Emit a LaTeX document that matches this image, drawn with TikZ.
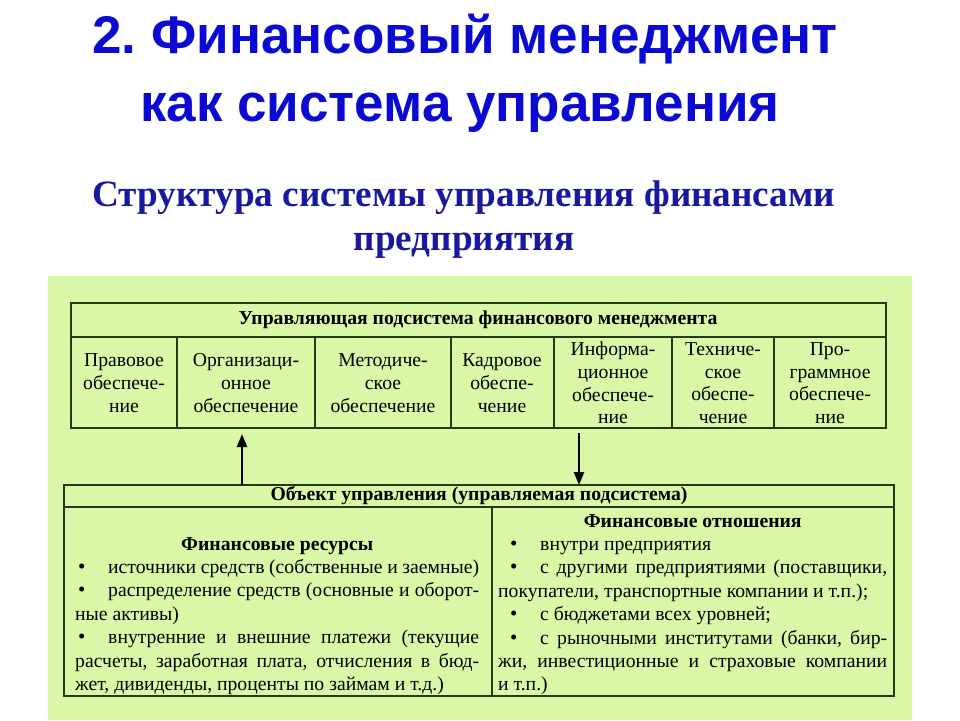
\documentclass[tikz,border=0pt]{standalone}
\usepackage{fontspec}
\setmainfont{Liberation Serif}
\newfontfamily\slidesans{Liberation Sans}
\usetikzlibrary{arrows.meta}

\definecolor{slidegreen}{RGB}{218,247,168}
\definecolor{titleblue}{RGB}{10,10,210}
\definecolor{subblue}{RGB}{25,25,160}
\definecolor{gridline}{RGB}{40,55,20}

\hyphenpenalty=10000
\exhyphenpenalty=10000
\frenchspacing

\newcommand{\itemdot}{\hspace*{3pt}\makebox[30pt][l]{\fontsize{21}{0}\selectfont\textbullet}}

\tikzset{
  rule/.style={draw=gridline, line width=1.6pt},
  cell/.style={align=center, inner sep=0pt, font=\fontsize{19.7}{22.7}\selectfont},
  rowhead/.style={inner sep=0pt, font=\bfseries\fontsize{19.7}{22}\selectfont},
  itembox/.style={inner sep=0pt, align=justify, anchor=base west,
    font=\fontsize{19.7}{23.4}\selectfont},
  link/.style={line width=2.4pt, -{Triangle[width=10pt,length=13pt]}},
}

\begin{document}
\begin{tikzpicture}[x=1pt,y=-1pt]
\useasboundingbox (0,0) rectangle (960,720);

% headings
\node[anchor=base, text=titleblue, font=\slidesans\bfseries\fontsize{53}{60}\selectfont]
  (title1) at (465,53) {2. Финансовый менеджмент};
\node[anchor=base, text=titleblue, font=\slidesans\bfseries\fontsize{53}{60}\selectfont]
  (title2) at (460,121) {как система управления};
\node[anchor=base, text=subblue, font=\bfseries\fontsize{37.2}{44}\selectfont]
  (sub1) at (464,206) {Структура системы управления финансами};
\node[anchor=base, text=subblue, font=\bfseries\fontsize{37.2}{44}\selectfont]
  (sub2) at (464,250) {предприятия};

\fill[slidegreen] (48,276) rectangle (912,720);

% managing subsystem
\draw[rule] (71,303) rectangle (886,428);
\draw[rule] (71,337) -- (886,337);
\foreach \x in {177,315,451,554,672,774}
  \draw[rule] (\x,337) -- (\x,428);

\node[rowhead] (mhead) at (478,320) {Управляющая подсистема финансового менеджмента};

\foreach \x/\t [count=\i] in {
  124/{Правовое\\обеспече-\\ние},
  246/{Организаци-\\онное\\обеспечение},
  383/{Методиче-\\ское\\обеспечение},
  502/{Кадровое\\обеспе-\\чение},
  613/{Информа-\\ционное\\обеспече-\\ние},
  723/{Техниче-\\ское\\обеспе-\\чение},
  830/{Про-\\граммное\\обеспече-\\ние}}
  \node[cell] (sup\i) at (\x,383) {\t};

% managed object
\draw[rule] (64,485) rectangle (894,696);
\draw[rule] (64,507) -- (894,507);
\draw[rule] (492,507) -- (492,696);

\node[rowhead] (ohead) at (479,496) {Объект управления (управляемая подсистема)};

\node[itembox, text width=404pt] (res) at (75,550) {%
  {\centering\bfseries Финансовые ресурсы\par}
  \itemdot источники средств (собственные и заемные)\par
  \itemdot распределение средств (основные и оборот-\linebreak
  ные активы)\par
  \itemdot внутренние и внешние платежи (текущие\linebreak
  расчеты, заработная плата, отчисления в бюд-\linebreak
  жет, дивиденды, проценты по займам и т.д.)\par};

\node[itembox, text width=389pt] (rel) at (498,527) {%
  {\centering\bfseries Финансовые отношения\par}
  \hspace*{9pt}\itemdot внутри предприятия\par
  \hspace*{9pt}\itemdot с другими предприятиями (поставщики,\linebreak
  покупатели, транспортные компании и т.п.);\par
  \hspace*{9pt}\itemdot с бюджетами всех уровней;\par
  \hspace*{9pt}\itemdot с рыночными институтами (банки, бир-\linebreak
  жи, инвестиционные и страховые компании\linebreak
  и т.п.)\par};

% links between subsystems
\coordinate (upfrom) at (242,485);
\coordinate (upto) at (242,434);
\coordinate (downfrom) at (579,433);
\coordinate (downto) at (579,485);
\draw[link] (upfrom) -- (upto);
\draw[link] (downfrom) -- (downto);
\end{tikzpicture}
\end{document}
